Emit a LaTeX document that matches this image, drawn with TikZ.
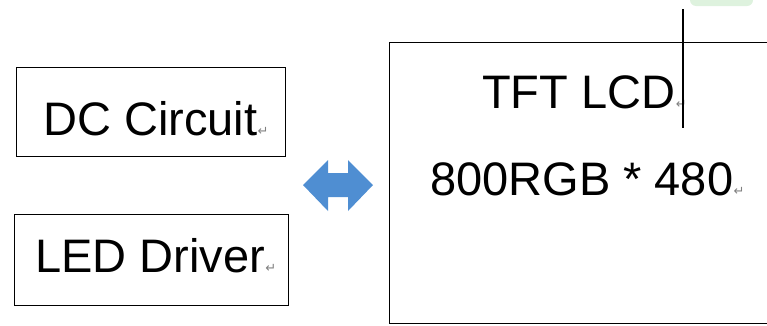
\documentclass[tikz,border=0pt]{standalone}
\usepackage{fontspec}
\setmainfont{Liberation Sans}
\newfontfamily\symfont{DejaVu Sans}
\definecolor{arrowblue}{RGB}{79,142,210}
\definecolor{blobgreen}{RGB}{222,242,222}
\tikzset{
  box/.style={draw=black, line width=1.4pt, anchor=north west, inner sep=0pt},
  lbl/.style={anchor=base west, inner sep=0pt, font=\fontsize{47}{50}\selectfont},
  ret/.style={anchor=base west, inner sep=0pt, text=gray, font=\symfont\fontsize{13}{14}\selectfont}
}
\begin{document}
\begin{tikzpicture}[x=1pt,y=-1pt]
\useasboundingbox (0,0) rectangle (767,325);
\clip (0,0) rectangle (767,325);
% green blob at top right
\fill[blobgreen, rounded corners=6pt] (690,-12) rectangle (753,6);
% left boxes
\node[box, minimum width=269pt, minimum height=89pt] (dc) at (16,67) {};
\node[box, minimum width=274pt, minimum height=91pt] (led) at (14,214) {};
\node[lbl] (dct) at (43,135) {DC Circuit};
\node[ret] at (dct.base east) {↵};
\node[lbl] (ledt) at (35,272) {LED Driver};
\node[ret] at (ledt.base east) {↵};
% right box (extends beyond the right edge)
\node[box, minimum width=400pt, minimum height=281pt] (lcd) at (389,42) {};
\node[lbl] (lcdt) at (482,108) {TFT LCD};
\node[ret] at (lcdt.base east) {↵};
\node[lbl] (rest) at (430,195) {800RGB * 480};
\node[ret] at (rest.base east) {↵};
% double arrow
\fill[arrowblue] (303,185) -- (328,160) -- (328,173) -- (348,173) -- (348,160)
  -- (373,185) -- (348,211) -- (348,197) -- (328,197) -- (328,211) -- cycle;
% text cursor line
\draw[line width=1.4pt] (683,9) -- (683,128);
\end{tikzpicture}
\end{document}
